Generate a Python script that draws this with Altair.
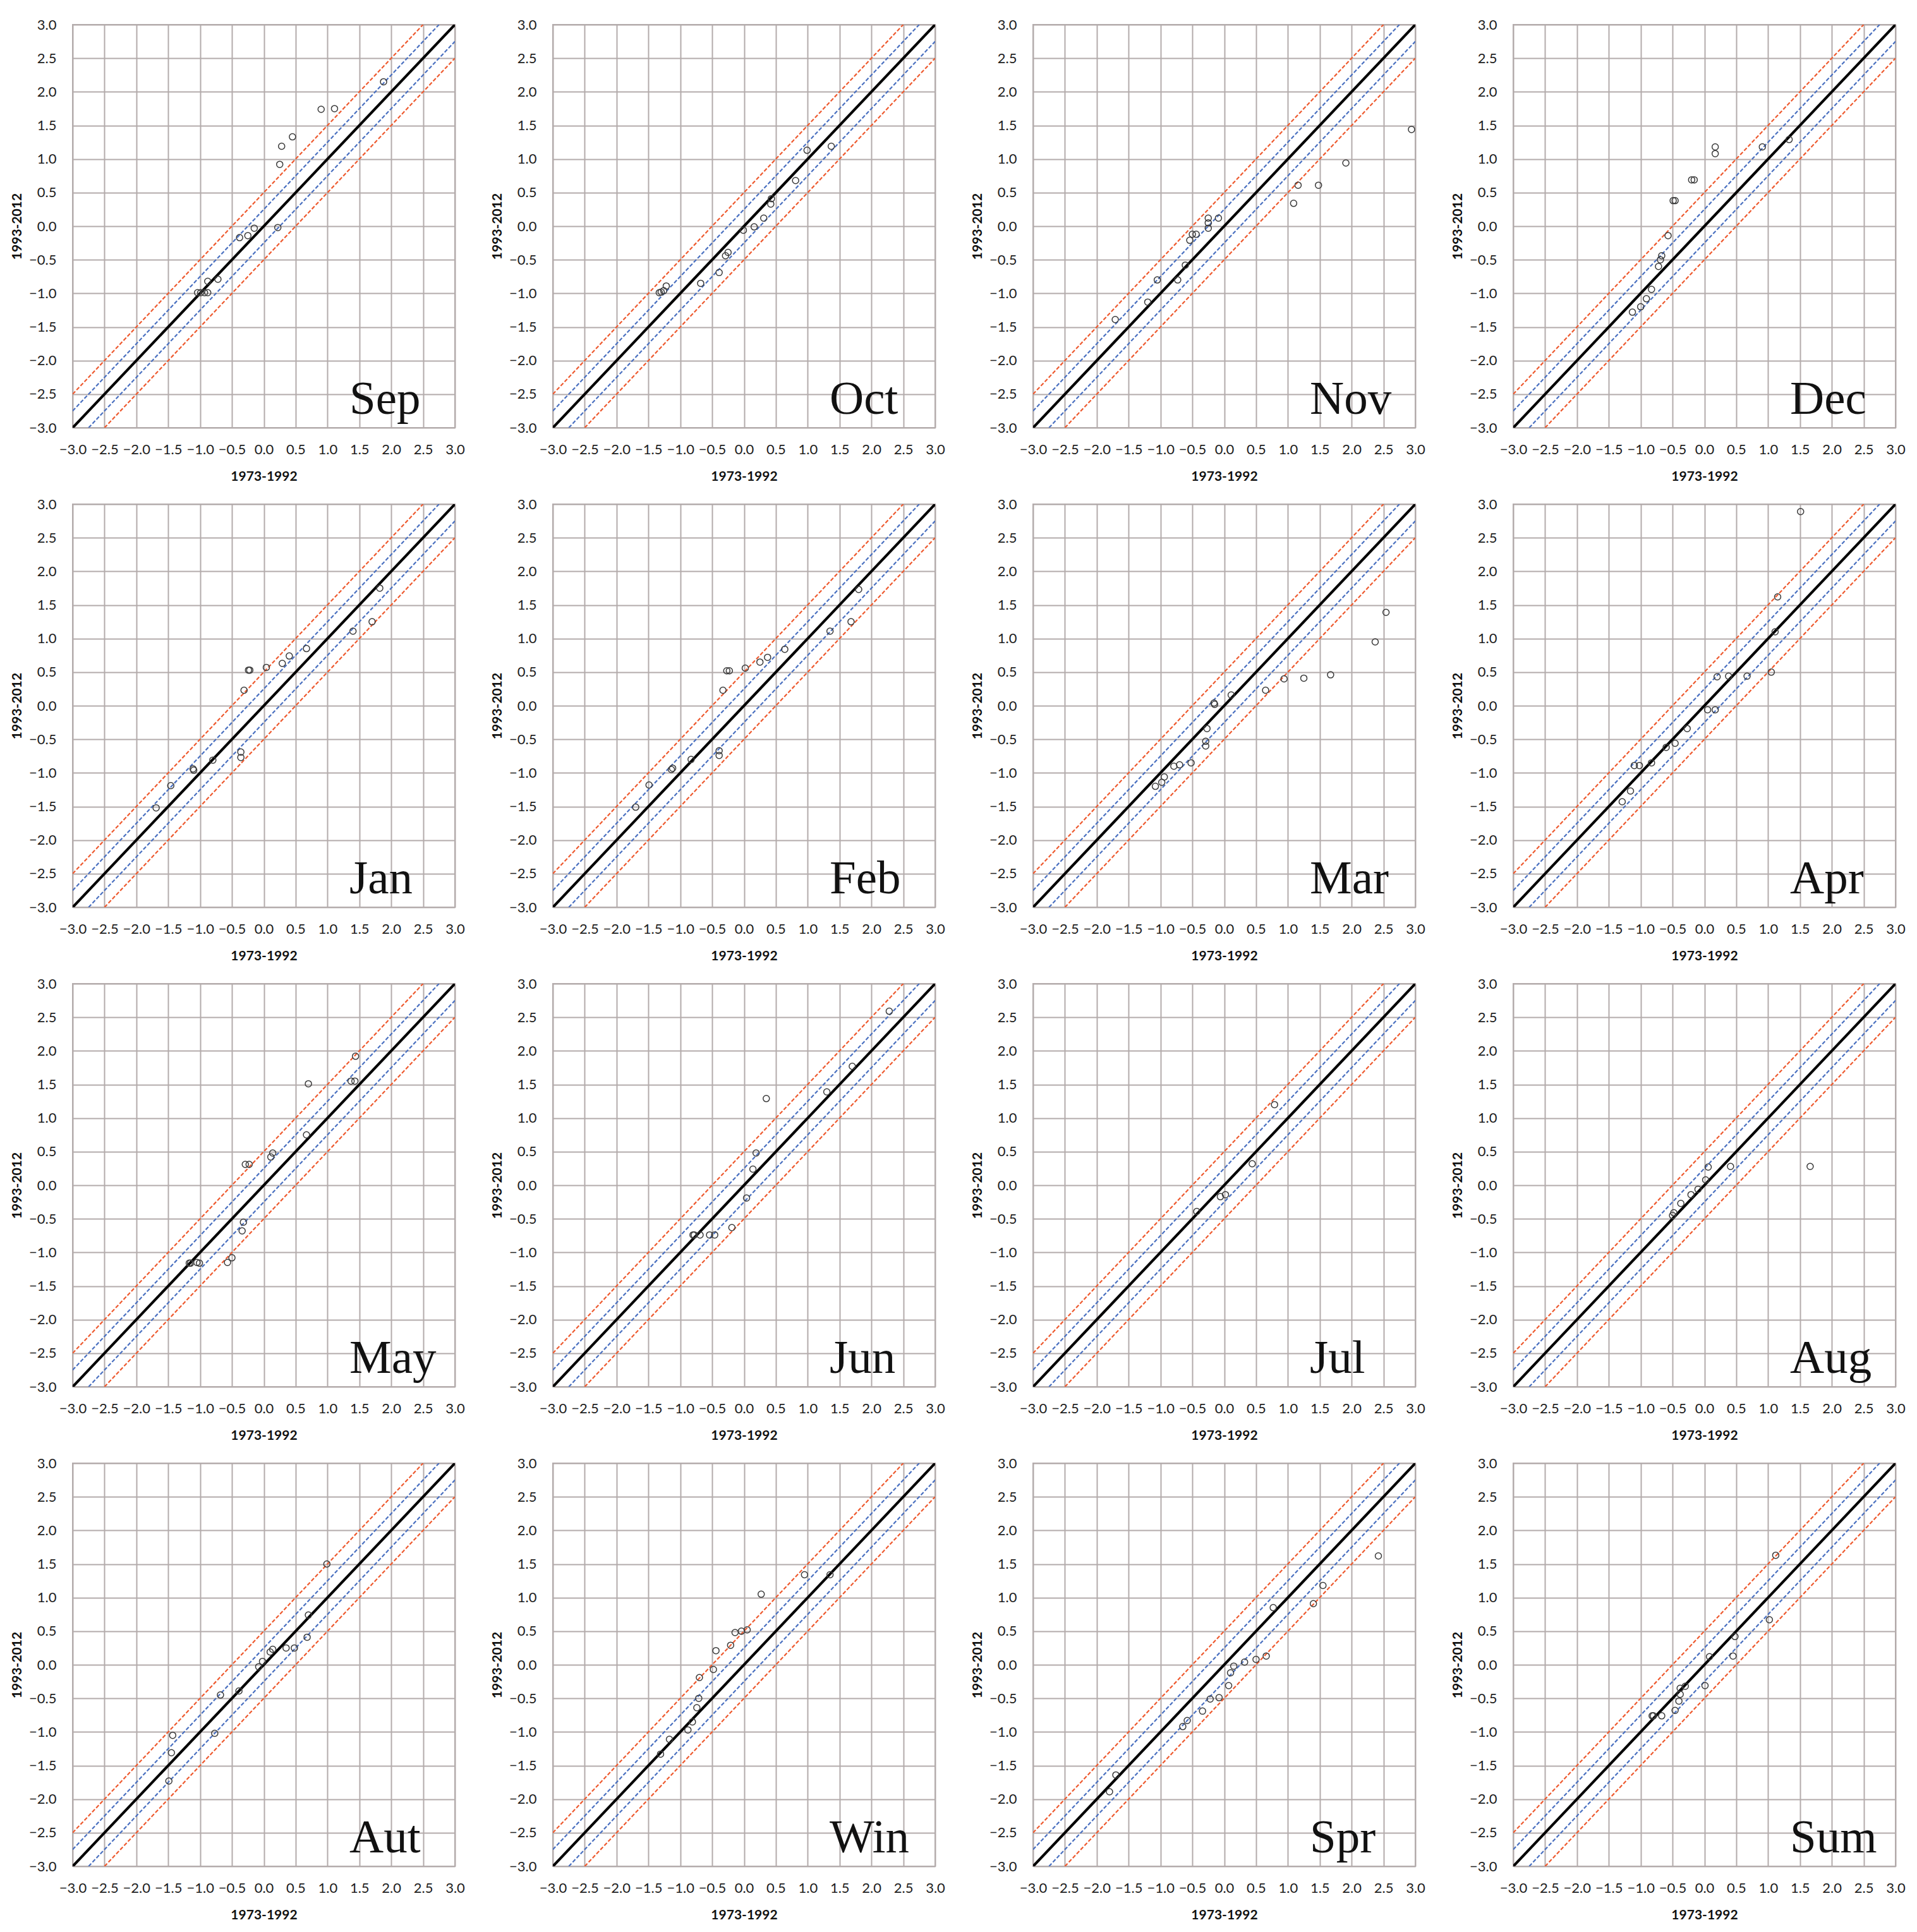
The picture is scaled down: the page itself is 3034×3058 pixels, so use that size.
import altair as alt
import pandas as pd

panels = ["Sep", "Oct", "Nov", "Dec", "Jan", "Feb", "Mar", "Apr",
          "May", "Jun", "Jul", "Aug", "Aut", "Win", "Spr", "Sum"]

sep_x = [1.88, 0.90, 1.11, 0.45, 0.28, 0.25, -0.38, -0.25, -0.15, 0.22, -0.88, -0.72, -1.04, -0.99, -0.93, -0.88]
sep_y = [2.15, 1.74, 1.75, 1.33, 1.19, 0.92, -0.17, -0.14, -0.03, -0.02, -0.82, -0.79, -0.99, -0.99, -0.99, -0.99]

oct_x = [1.37, 0.99, 0.81, 0.43, 0.42, 0.31, 0.16, -0.01, -0.25, -0.29, -0.39, -0.68, -1.22, -1.33, -1.30, -1.26]
oct_y = [1.19, 1.13, 0.68, 0.41, 0.33, 0.12, -0.01, -0.06, -0.39, -0.44, -0.69, -0.85, -0.89, -0.99, -0.98, -0.96]

nov_x = [2.94, 1.91, 1.16, 1.48, 1.09, -0.09, -0.25, -0.25, -0.25, -0.44, -0.50, -0.54, -0.61, -0.73, -1.05, -1.20, -1.71]
nov_y = [1.44, 0.94, 0.61, 0.61, 0.34, 0.12, 0.12, 0.05, -0.03, -0.12, -0.12, -0.21, -0.58, -0.80, -0.80, -1.13, -1.39]

dec_x = [1.33, 0.91, 0.17, 0.17, -0.20, -0.16, -0.49, -0.46, -0.57, -0.67, -0.69, -0.72, -0.83, -0.91, -1.00, -1.13]
dec_y = [1.29, 1.18, 1.18, 1.08, 0.69, 0.69, 0.38, 0.38, -0.14, -0.44, -0.50, -0.60, -0.94, -1.08, -1.20, -1.28]

jan_x = [1.82, 1.70, 1.40, 0.67, 0.40, 0.29, 0.04, -0.24, -0.22, -0.31, -0.36, -0.36, -0.80, -1.11, -1.10, -1.46, -1.69]
jan_y = [1.75, 1.25, 1.11, 0.85, 0.74, 0.63, 0.57, 0.53, 0.53, 0.23, -0.69, -0.77, -0.81, -0.94, -0.96, -1.19, -1.52]

feb_x = [1.80, 1.68, 1.35, 0.64, 0.37, 0.25, 0.02, -0.27, -0.23, -0.33, -0.39, -0.39, -0.83, -1.14, -1.12, -1.49, -1.70]
feb_y = [1.73, 1.25, 1.11, 0.84, 0.72, 0.65, 0.56, 0.52, 0.52, 0.23, -0.67, -0.74, -0.80, -0.95, -0.93, -1.18, -1.51]

mar_x = [2.54, 2.37, 1.67, 1.25, 0.94, 0.65, 0.11, -0.15, -0.16, -0.27, -0.29, -0.29, -0.52, -0.70, -0.79, -0.94, -0.98, -1.08]
mar_y = [1.39, 0.95, 0.46, 0.41, 0.40, 0.23, 0.16, 0.02, 0.04, -0.34, -0.53, -0.60, -0.85, -0.88, -0.90, -1.06, -1.14, -1.20]

apr_x = [1.51, 1.15, 1.11, 1.05, 0.67, 0.38, 0.20, 0.17, 0.05, -0.27, -0.46, -0.60, -0.83, -1.02, -1.10, -1.16, -1.29]
apr_y = [2.89, 1.62, 1.10, 0.50, 0.44, 0.44, 0.43, -0.06, -0.06, -0.34, -0.56, -0.62, -0.85, -0.89, -0.89, -1.27, -1.43]

may_x = [1.44, 1.37, 1.43, 0.70, 0.67, 0.14, 0.11, -0.29, -0.23, -0.32, -0.34, -0.50, -0.57, -1.01, -1.05, -1.15, -1.17]
may_y = [1.92, 1.55, 1.55, 1.51, 0.75, 0.48, 0.42, 0.31, 0.31, -0.55, -0.68, -1.08, -1.15, -1.16, -1.15, -1.16, -1.16]

jun_x = [2.28, 1.70, 1.30, 0.35, 0.19, 0.14, 0.04, -0.19, -0.46, -0.54, -0.69, -0.78, -0.80]
jun_y = [2.59, 1.77, 1.39, 1.29, 0.48, 0.24, -0.19, -0.63, -0.74, -0.74, -0.74, -0.74, -0.74]

jul_x = [0.79, 0.44, 0.02, -0.06, -0.43]
jul_y = [1.20, 0.32, -0.14, -0.17, -0.39]

aug_x = [1.66, 0.41, 0.06, 0.02, -0.10, -0.21, -0.37, -0.48, -0.50]
aug_y = [0.28, 0.28, 0.27, 0.08, -0.06, -0.14, -0.27, -0.41, -0.45]

aut_x = [0.99, 0.70, 0.68, 0.48, 0.35, 0.14, 0.10, -0.02, -0.08, -0.39, -0.68, -0.77, -1.43, -1.45, -1.49]
aut_y = [1.50, 0.74, 0.41, 0.25, 0.25, 0.23, 0.19, 0.05, -0.03, -0.39, -0.45, -1.02, -1.05, -1.31, -1.73]

win_x = [1.35, 0.95, 0.27, 0.05, -0.04, -0.14, -0.21, -0.44, -0.48, -0.70, -0.71, -0.74, -0.81, -0.88, -1.17, -1.31]
win_y = [1.34, 1.34, 1.05, 0.52, 0.50, 0.48, 0.29, 0.21, -0.07, -0.19, -0.50, -0.64, -0.85, -0.97, -1.11, -1.33]

spr_x = [2.42, 1.55, 1.40, 0.77, 0.66, 0.50, 0.32, 0.15, 0.10, 0.07, -0.08, -0.22, -0.34, -0.58, -0.65, -1.70, -1.80]
spr_y = [1.62, 1.18, 0.91, 0.85, 0.13, 0.08, 0.04, -0.02, -0.12, -0.31, -0.49, -0.51, -0.69, -0.83, -0.92, -1.64, -1.89]

sum_x = [1.12, 1.02, 0.48, 0.45, 0.08, 0.01, -0.30, -0.38, -0.38, -0.40, -0.46, -0.67, -0.80, -0.82]
sum_y = [1.63, 0.67, 0.42, 0.13, 0.12, -0.31, -0.32, -0.35, -0.44, -0.54, -0.68, -0.76, -0.76, -0.76]

series = {
    "Sep": (sep_x, sep_y), "Oct": (oct_x, oct_y), "Nov": (nov_x, nov_y), "Dec": (dec_x, dec_y),
    "Jan": (jan_x, jan_y), "Feb": (feb_x, feb_y), "Mar": (mar_x, mar_y), "Apr": (apr_x, apr_y),
    "May": (may_x, may_y), "Jun": (jun_x, jun_y), "Jul": (jul_x, jul_y), "Aug": (aug_x, aug_y),
    "Aut": (aut_x, aut_y), "Win": (win_x, win_y), "Spr": (spr_x, spr_y), "Sum": (sum_x, sum_y),
}

# reference lines: 1:1 line and +-0.25 / +-0.5 bands
offsets = [-0.5, -0.25, 0.0, 0.25, 0.5]
offset_kind = {-0.5: "red", -0.25: "blue", 0.0: "black", 0.25: "blue", 0.5: "red"}
lo, hi = -3.0, 3.0
ticks = [-3.0, -2.5, -2.0, -1.5, -1.0, -0.5, 0.0, 0.5, 1.0, 1.5, 2.0, 2.5, 3.0]

rows = []
for p in panels:
    xs, ys = series[p]
    for a, b in zip(xs, ys):
        rows.append({"panel": p, "kind": "pt", "grp": "pt", "x": a, "y": b, "label": ""})
    for d in offsets:
        x0 = max(lo, lo - d)
        x1 = min(hi, hi - d)
        for xv in (x0, x1):
            rows.append({"panel": p, "kind": offset_kind[d], "grp": str(d), "x": xv, "y": xv + d, "label": ""})
    rows.append({"panel": p, "kind": "label", "grp": "label", "x": 0.0, "y": 0.0, "label": p})

df = pd.DataFrame(rows)

xs_scale = alt.Scale(domain=[lo, hi], nice=False, zero=False)
ys_scale = alt.Scale(domain=[lo, hi], nice=False, zero=False)
x_axis = alt.Axis(title="1973-1992", values=ticks, format=".1f", labelOverlap=False, labelFlush=False)
y_axis = alt.Axis(title="1993-2012", values=ticks, format=".1f", labelOverlap=False, labelFlush=False)

W, H = 605, 638


def panel_chart(p):
    base = alt.Chart(df).transform_filter(alt.datum.panel == p)

    def line_layer(kind, color, width, dash=None):
        kw = dict(color=color, strokeWidth=width, clip=True)
        if dash:
            kw["strokeDash"] = dash
        return base.mark_line(**kw).encode(
            x=alt.X("x:Q", scale=xs_scale, axis=x_axis),
            y=alt.Y("y:Q", scale=ys_scale, axis=y_axis),
            detail="grp:N",
            order="x:Q",
        ).transform_filter(alt.datum.kind == kind)

    red = line_layer("red", "#ee5a2f", 2.2, [6, 3])
    blue = line_layer("blue", "#4a70c0", 2.2, [6, 3])
    black = line_layer("black", "#000000", 4.2)

    pts = base.mark_point(shape="circle", filled=False, color="#3a3a3a", size=100,
                          strokeWidth=1.5, opacity=1).encode(
        x=alt.X("x:Q", scale=xs_scale, axis=x_axis),
        y=alt.Y("y:Q", scale=ys_scale, axis=y_axis),
    ).transform_filter(alt.datum.kind == "pt")

    lbl = base.mark_text(font="Liberation Serif", fontSize=75, align="left",
                         baseline="alphabetic", color="#111111").encode(
        x=alt.value(438),
        y=alt.value(616),
        text="label:N",
    ).transform_filter(alt.datum.kind == "label")

    return alt.layer(red, blue, black, pts, lbl).properties(width=W, height=H)


chart = alt.concat(
    *[panel_chart(p) for p in panels],
    columns=4,
    spacing={"row": 121, "column": 155},
    bounds="flush",
).configure_view(
    stroke="#b3abab", strokeWidth=2
).configure_axis(
    grid=True, gridColor="#b3abab", gridWidth=2, domain=False, ticks=False,
    labelFont="Lato", labelFontSize=22, labelColor="#1e1e1e",
    titleFont="Lato", titleFontSize=21, titleFontWeight="bold", titleColor="#111111",
).configure_axisX(labelPadding=24, titlePadding=21).configure_axisY(
    labelPadding=26, titlePadding=8
).properties(padding={"left": 7, "top": 19, "right": 5, "bottom": 5}, background="white")

chart.save("out.html", embed_options={"renderer": "svg", "actions": False})
